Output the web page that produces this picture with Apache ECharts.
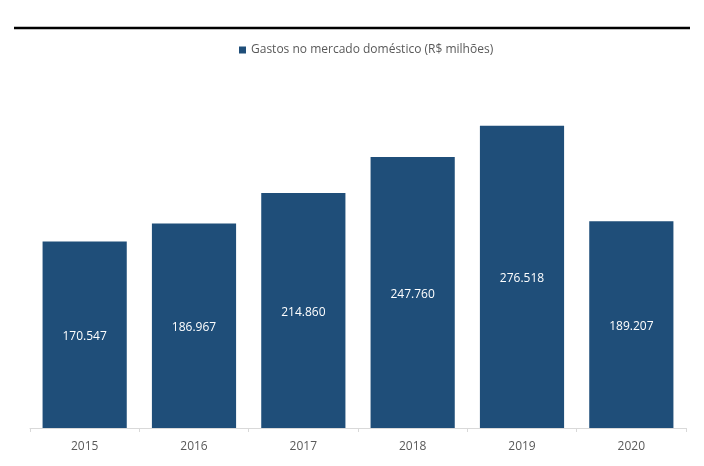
<!DOCTYPE html>
<html>
<head>
<meta charset="utf-8">
<script src="https://cdn.jsdelivr.net/npm/echarts@6/dist/echarts.min.js"></script>
<style>html,body{margin:0;padding:0;background:#fff}#c{width:704px;height:466px}</style>
</head>
<body>
<div id="c"></div>
<script>
var categories = ['2015', '2016', '2017', '2018', '2019', '2020'];
var values = [170547, 186967, 214860, 247760, 276518, 189207];
var seriesName = 'Gastos no mercado doméstico (R$ milhões)';

var chart = echarts.init(document.getElementById('c'), null, {renderer: 'canvas'});
chart.setOption({
  animation: false,
  backgroundColor: '#ffffff',
  textStyle: {fontFamily: 'Open Sans'},
  graphic: [{
    type: 'line',
    shape: {x1: 14, y1: 28, x2: 690, y2: 28},
    style: {stroke: '#000000', lineWidth: 2.5}
  }],
  legend: {
    top: 39,
    left: 234,
    itemWidth: 7,
    itemHeight: 7,
    itemGap: 5,
    icon: 'rect',
    textStyle: {color: '#595959', fontSize: 12, fontFamily: 'Open Sans'},
    data: [seriesName]
  },
  grid: {left: 30, right: 18, top: 100, bottom: 38},
  xAxis: {
    type: 'category',
    data: categories,
    axisLine: {lineStyle: {color: '#d9d9d9', width: 1}},
    axisTick: {show: true, length: 4, alignWithLabel: false, lineStyle: {color: '#d9d9d9'}},
    axisLabel: {color: '#595959', fontSize: 12, margin: 13, fontFamily: 'Open Sans'}
  },
  yAxis: {
    type: 'value',
    min: 0,
    max: 300000,
    show: false,
    splitLine: {show: false}
  },
  series: [{
    name: seriesName,
    type: 'bar',
    data: values,
    barCategoryGap: '23%',
    itemStyle: {color: '#1f4e79'},
    label: {
      show: true,
      position: 'inside',
      offset: [0, 2],
      color: '#ffffff',
      fontSize: 12,
      fontFamily: 'Open Sans',
      formatter: function (p) {
        return (p.value / 1000).toFixed(3);
      }
    }
  }]
});
</script>
</body>
</html>
